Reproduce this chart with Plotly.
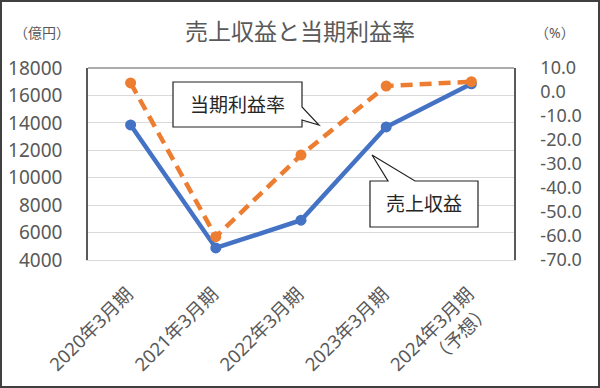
import plotly.graph_objects as go

categories = ["2020年3月期", "2021年3月期", "2022年3月期", "2023年3月期", "2024年3月期<br>（予想）"]
revenue = [13850, 4880, 6900, 13700, 16850]          # 売上収益（億円）
profit_rate = [3.8, -60.3, -26.3, 2.5, 4.3]          # 当期利益率（%）
left_ticks = [4000, 6000, 8000, 10000, 12000, 14000, 16000, 18000]
right_ticks = [10.0, 0.0, -10.0, -20.0, -30.0, -40.0, -50.0, -60.0, -70.0]
right_ticktext = [f"{v:.1f}" for v in right_ticks]

W, H = 600, 388
L, R, T, B = 88, 514, 68, 260
PW, PH = R - L, B - T

def px(x, y):
    return (x - L) / PW, (B - y) / PH

def path(points):
    s = ""
    for i, (x, y) in enumerate(points):
        u, v = px(x, y)
        s += ("M" if i == 0 else "L") + f"{u:.5f},{v:.5f} "
    return s + "Z"

FONT = "Noto Sans, Noto Sans CJK JP, sans-serif"
GRAY = "#595959"

fig = go.Figure()
fig.add_trace(go.Scatter(
    x=categories, y=revenue, mode="lines+markers", name="売上収益",
    line=dict(color="#4472C4", width=4.5),
    marker=dict(size=11, color="#4472C4"),
    yaxis="y", cliponaxis=False,
))
fig.add_trace(go.Scatter(
    x=categories, y=profit_rate, mode="lines+markers", name="当期利益率",
    line=dict(color="#ED7D31", width=4.5, dash="12px,7px"),
    marker=dict(size=11, color="#ED7D31"),
    yaxis="y2", cliponaxis=False,
))

shapes = []
# outer border
u0, v0 = px(1, 387)
u1, v1 = px(599, 1)
shapes.append(dict(type="rect", xref="paper", yref="paper", x0=u0, y0=v0, x1=u1, y1=v1,
                   line=dict(color="#404040", width=2), fillcolor="rgba(0,0,0,0)", layer="below"))
# top border of plot area
shapes.append(dict(type="line", xref="paper", yref="paper", x0=0, y0=1, x1=1, y1=1,
                   line=dict(color="#595959", width=1)))
# callouts
shapes.append(dict(type="path", xref="paper", yref="paper",
                   path=path([(173, 82), (302, 82), (302, 107), (319, 125), (302, 120), (302, 127), (173, 127)]),
                   fillcolor="white", line=dict(color="#222222", width=1.2), layer="above"))
shapes.append(dict(type="path", xref="paper", yref="paper",
                   path=path([(370, 181), (388, 181), (372, 155), (415, 181), (478, 181), (478, 227), (370, 227)]),
                   fillcolor="white", line=dict(color="#222222", width=1.2), layer="above"))

annotations = []
def add_text(text, x, y, size, color, xanchor="center"):
    u, v = px(x, y)
    annotations.append(dict(text=text, x=u, y=v, xref="paper", yref="paper", showarrow=False,
                            xanchor=xanchor, yanchor="middle", font=dict(size=size, color=color, family=FONT)))

add_text("売上収益と当期利益率", 300, 31, 23, GRAY)
add_text("（億円）", 42, 32, 14, GRAY)
add_text("（%）", 555, 32, 14, GRAY)
add_text("当期利益率", 237.5, 104.5, 19, "#262626")
add_text("売上収益", 424, 204, 19, "#262626")

fig.update_layout(
    width=W, height=H, autosize=False,
    margin=dict(l=L, r=W - R, t=T, b=H - B, pad=0, autoexpand=False),
    paper_bgcolor="white", plot_bgcolor="white",
    showlegend=False,
    font=dict(family=FONT, color=GRAY),
    xaxis=dict(type="category", tickangle=-45, tickfont=dict(size=18.5, color=GRAY),
               showgrid=False, showline=True, linecolor="#d9d9d9", linewidth=1,
               ticks="", range=[-0.5, 4.5], ticklabelstandoff=15, ticklabelshift=-3,
               automargin=False),
    yaxis=dict(range=[4000, 18000], tickvals=left_ticks, tickformat="d",
               tickfont=dict(size=19, color=GRAY), showgrid=True, gridcolor="#d9d9d9",
               gridwidth=1, showline=True, linecolor="#595959", linewidth=1.5,
               ticks="", zeroline=False, ticklabelstandoff=20, automargin=False),
    yaxis2=dict(range=[-70, 10], overlaying="y", side="right", tickvals=right_ticks,
                ticktext=right_ticktext, tickfont=dict(size=18, color=GRAY), showgrid=False,
                showline=True, linecolor="#595959", linewidth=1.5, ticks="", zeroline=False,
                ticklabelstandoff=21, automargin=False),
    shapes=shapes, annotations=annotations,
)

fig.write_html("out.html", config={"displayModeBar": False},
               post_script="document.body.style.margin='0';document.body.style.overflow='hidden';")
